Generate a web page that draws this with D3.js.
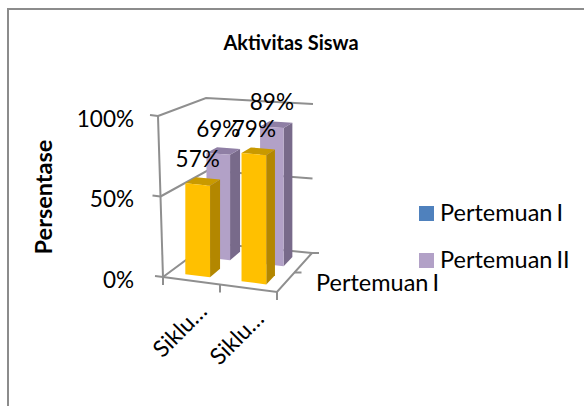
<!DOCTYPE html>
<html>
<head>
<meta charset="utf-8">
<script src="https://cdn.jsdelivr.net/npm/d3@7"></script>
<style>
  html, body { margin: 0; padding: 0; background: #fff; }
  svg { display: block; }
  text { font-family: Lato, "Open Sans", sans-serif; fill: #000; }
</style>
</head>
<body>
<div id="chart"></div>
<script>
const categories = ['Siklu…', 'Siklu…']
const seriesNames = ['Pertemuan I', 'Pertemuan II']
const pertemuan1 = [57, 79]
const pertemuan2 = [69, 89]
const yTicks = [0, 50, 100]

const width = 584
const height = 406

// sudut kotak 3D: lantai dan atap
const floor = { fl: [163, 277], fr: [277, 292], bl: [209, 243], br: [312, 253] }
const roof = { fl: [158, 116], fr: [273, 125], bl: [206, 98], br: [313, 104] }

const svg = d3.select('#chart').append('svg')
  .attr('width', width)
  .attr('height', height)

const xScale = d3.scaleBand().domain(d3.range(categories.length)).range([0, 1])
  .paddingInner(0.56).paddingOuter(0.28)
const zScale = d3.scaleBand().domain(d3.range(seriesNames.length)).range([0, 1])
  .paddingInner(0.5).paddingOuter(0.3)
const yScale = d3.scaleLinear().domain([0, 100]).range([0, 1])

function lerp(a, b, t) {
  return [a[0] + (b[0] - a[0]) * t, a[1] + (b[1] - a[1]) * t]
}
function onPlane(p, u, v) {
  return lerp(lerp(p.fl, p.fr, u), lerp(p.bl, p.br, u), v)
}
// u: arah kategori, v: arah seri, val: nilai persen
function project(u, v, val) {
  return lerp(onPlane(floor, u, v), onPlane(roof, u, v), yScale(val))
}
// batang tegak lurus, x tetap dari lantai
function barPoint(u, v, val) {
  return [onPlane(floor, u, v)[0], project(u, v, val)[1]]
}

const axisColor = '#8f8f8f'
const wall = svg.append('g')
  .attr('fill', 'none')
  .attr('stroke', axisColor)
  .attr('stroke-width', 2)

function line(g, pts) {
  g.append('path').attr('d', d3.line()(pts))
}

// bingkai
svg.append('path')
  .attr('d', d3.line()([[8, height], [8, 9], [width, 9]]))
  .attr('fill', 'none')
  .attr('stroke', '#8c8c8c')
  .attr('stroke-width', 2)

// garis dinding
yTicks.forEach(t => {
  line(wall, [project(0, 0, t), project(0, 1, t), project(1, 1, t)])
  const p = project(0, 0, t)
  line(wall, [[p[0] - 8, p[1] - 1], p])
})
line(wall, [project(0, 0, 0), project(0, 0, 100)])
line(wall, [project(0, 0, 0), project(1, 0, 0), project(1, 1, 0)])
// tick sumbu x dan z
;[0, 0.5, 1].forEach(u => {
  const p = project(u, 0, 0)
  line(wall, [p, [p[0], p[1] + 8]])
})
;[0.5, 1].forEach(v => {
  const p = project(1, v, 0)
  line(wall, [p, [p[0] + 7, p[1]]])
})

const seriesValues = [pertemuan1, pertemuan2]
const seriesStyle = [
  { front: '#ffc000', side: '#b38700', top: '#c99a00' },
  { front: '#b2a1c7', side: '#786a8a', top: '#8f7fa5' }
]

function poly(pts, fill) {
  svg.append('polygon')
    .attr('points', pts.map(p => p.join(',')).join(' '))
    .attr('fill', fill)
}

// seri belakang digambar lebih dulu
d3.range(seriesNames.length).reverse().forEach(s => {
  categories.forEach((c, i) => {
    const val = seriesValues[s][i]
    const u0 = xScale(i)
    const u1 = u0 + xScale.bandwidth()
    const v0 = zScale(s)
    const v1 = v0 + zScale.bandwidth()
    const st = seriesStyle[s]
    poly([barPoint(u1, v0, 0), barPoint(u1, v1, 0), barPoint(u1, v1, val), barPoint(u1, v0, val)], st.side)
    poly([barPoint(u0, v0, val), barPoint(u1, v0, val), barPoint(u1, v1, val), barPoint(u0, v1, val)], st.top)
    poly([barPoint(u0, v0, 0), barPoint(u1, v0, 0), barPoint(u1, v0, val), barPoint(u0, v0, val)], st.front)
  })
})

// label data
d3.range(seriesNames.length).forEach(s => {
  categories.forEach((c, i) => {
    const val = seriesValues[s][i]
    const p = barPoint(xScale(i) + xScale.bandwidth() / 2, zScale(s), val)
    svg.append('text')
      .attr('x', p[0])
      .attr('y', p[1] - 17)
      .attr('text-anchor', 'middle')
      .attr('font-size', 22.5)
      .text(val + '%')
  })
})

// label sumbu y
yTicks.forEach(t => {
  const p = project(0, 0, t)
  svg.append('text')
    .attr('x', 134)
    .attr('y', p[1] + 10.5)
    .attr('text-anchor', 'end')
    .attr('font-size', 22.5)
    .text(t + '%')
})

// label kategori
categories.forEach((c, i) => {
  const p = project(xScale(i) + xScale.bandwidth() / 2, 0, 0)
  svg.append('text')
    .attr('transform', `translate(${p[0] + 17},${p[1] + 32}) rotate(-45)`)
    .attr('text-anchor', 'end')
    .attr('font-size', 23)
    .text(c)
})

// label sumbu z
svg.append('text')
  .attr('x', 316)
  .attr('y', 291)
  .attr('font-size', 23.5)
  .attr('word-spacing', -2)
  .text(seriesNames[0])

svg.append('text')
  .attr('x', 291)
  .attr('y', 50)
  .attr('text-anchor', 'middle')
  .attr('font-size', 20)
  .attr('font-weight', 'bold')
  .text('Aktivitas Siswa')

svg.append('text')
  .attr('transform', 'translate(52,197) rotate(-90)')
  .attr('text-anchor', 'middle')
  .attr('font-size', 23.5)
  .attr('font-weight', 'bold')
  .text('Persentase')

// legenda
const legendColors = ['#4f81bd', '#b2a1c7']
const legendY = d3.scalePoint().domain(seriesNames).range([213, 260])
seriesNames.forEach((n, i) => {
  svg.append('rect')
    .attr('x', 419)
    .attr('y', legendY(n) - 7)
    .attr('width', 15)
    .attr('height', 15)
    .attr('fill', legendColors[i])
  svg.append('text')
    .attr('x', 440)
    .attr('y', legendY(n) + 8)
    .attr('font-size', 23.5)
    .attr('word-spacing', -2)
    .text(n)
})
</script>
</body>
</html>
